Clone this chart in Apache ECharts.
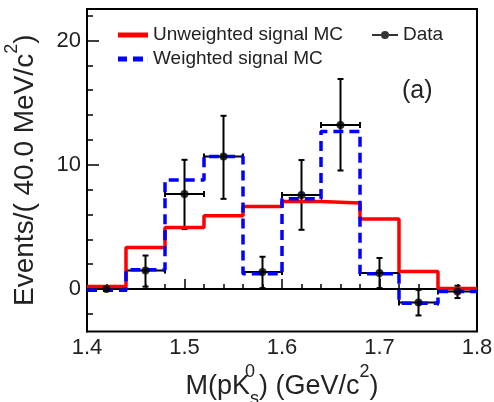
<!DOCTYPE html>
<html>
<head>
<meta charset="utf-8">
<script src="https://cdn.jsdelivr.net/npm/echarts@6/dist/echarts.min.js"></script>
<style>
  html, body { margin: 0; padding: 0; background: #fff; }
  #main { width: 494px; height: 402px; }
</style>
</head>
<body>
<div id="main"></div>
<script>
// 40 MeV bins, edges in GeV/c^2
const binEdges = [1.40, 1.44, 1.48, 1.52, 1.56, 1.60, 1.64, 1.68, 1.72, 1.76, 1.80];
const unweightedMC = [0.2, 3.35, 4.95, 5.9, 6.65, 7.05, 6.92, 5.63, 1.42, 0.05];
const weightedMC = [-0.1, 1.55, 8.77, 10.67, 1.23, 7.26, 12.68, 1.23, -1.13, -0.2];
// data points (bin centres) with error bar ends
const dataX = [1.42, 1.46, 1.50, 1.54, 1.58, 1.62, 1.66, 1.70, 1.74, 1.78];
const dataY = [0, 1.5, 7.64, 10.67, 1.37, 7.56, 13.2, 1.29, -1.08, -0.19];
const dataLow = [0, 0.2, 4.83, 7.26, 0.08, 4.77, 9.54, 0.08, -2.12, -0.72];
const dataHigh = [0, 2.7, 10.4, 13.94, 2.6, 10.38, 16.9, 2.5, -0.06, 0.27];
const yMajorTicks = [0, 10, 20];
const yMinorTicks = [-2, 2, 4, 6, 8, 12, 14, 16, 18, 22];
const yMin = -3.41, yMax = 22.53;

const FONT = 'Liberation Sans';
const TXT = '#222';

// histogram as step line: left edge of every bin + closing right edge
function toSteps(vals) {
  return binEdges.map((e, i) => [e, vals[Math.min(i, vals.length - 1)]]);
}

function renderErr(params, api) {
  const x = api.value(0), y = api.value(1), lo = api.value(2), hi = api.value(3);
  const c = api.coord([x, y]);
  const l = api.coord([x - 0.02, y]);
  const r = api.coord([x + 0.02, y]);
  const cap = 3;
  const st = { stroke: '#000', lineWidth: 2 };
  const kids = [
    { type: 'line', shape: { x1: l[0], y1: c[1], x2: r[0], y2: c[1] }, style: st },
    { type: 'line', shape: { x1: l[0], y1: c[1] - cap, x2: l[0], y2: c[1] + cap }, style: st },
    { type: 'line', shape: { x1: r[0], y1: c[1] - cap, x2: r[0], y2: c[1] + cap }, style: st }
  ];
  if (hi > lo) {
    const t = api.coord([x, hi]), b = api.coord([x, lo]);
    kids.push(
      { type: 'line', shape: { x1: c[0], y1: t[1], x2: c[0], y2: b[1] }, style: st },
      { type: 'line', shape: { x1: c[0] - cap, y1: t[1], x2: c[0] + cap, y2: t[1] }, style: st },
      { type: 'line', shape: { x1: c[0] - cap, y1: b[1], x2: c[0] + cap, y2: b[1] }, style: st }
    );
  }
  return { type: 'group', children: kids };
}

const legendText = { fontFamily: FONT, fontSize: 19, color: TXT, lineHeight: 20 };

const chart = echarts.init(document.getElementById('main'));
const option = {
  animation: false,
  backgroundColor: '#fff',
  title: {
    text: '(a)', left: 402, top: 79, padding: 0,
    textStyle: { fontFamily: FONT, fontSize: 25, fontWeight: 'normal', color: TXT }
  },
  legend: [{
    data: [
      { name: 'Unweighted signal MC', icon: 'path://M0,0 L30,0 L30,5 L0,5 Z' },
      { name: 'Weighted signal MC', icon: 'path://M0,0 L9,0 L9,5 L0,5 Z M15,0 L25,0 L25,5 L15,5 Z M29.9,0 L30,0 L30,5 L29.9,5 Z' }
    ],
    orient: 'vertical', left: 118, top: 25, padding: 0, itemGap: 4,
    itemWidth: 30, itemHeight: 5, selectedMode: false,
    textStyle: legendText
  }, {
    data: [{ name: 'Data', icon: 'path://M0,4 L9,4 L9,6 L0,6 Z M17,4 L26,4 L26,6 L17,6 Z M13,1 A4,4 0 1 1 13,9 A4,4 0 1 1 13,1 Z' }],
    left: 372, top: 25, padding: 0, itemWidth: 26, itemHeight: 8, selectedMode: false,
    textStyle: legendText
  }],
  grid: {
    left: 87, right: 17, top: 9, bottom: 70.5,
    show: true, borderColor: '#000', borderWidth: 2,
    outerBoundsMode: 'none'
  },
  xAxis: {
    type: 'value', min: 1.4, max: 1.8, interval: 0.1,
    axisLine: { lineStyle: { color: '#000', width: 2 } },
    axisTick: { inside: true, length: 10, lineStyle: { color: '#000', width: 1.5 } },
    minorTick: { show: true, splitNumber: 5, length: 5, lineStyle: { color: '#000', width: 1.5 } },
    splitLine: { show: false },
    axisLabel: { margin: 5, fontFamily: FONT, fontSize: 22, color: TXT },
    name: 'M(pK{sup|0}{sub|s}) (GeV/c{sup2|2})',
    nameLocation: 'middle', nameGap: 30,
    nameTextStyle: {
      fontFamily: FONT, fontSize: 27, color: TXT,
      rich: {
        sup: { fontFamily: FONT, fontSize: 18, color: TXT, width: 0, padding: [0, 0, 29, 0] },
        sub: { fontFamily: FONT, fontSize: 18, color: TXT, padding: [25, 0, 0, 0] },
        sup2: { fontFamily: FONT, fontSize: 18, color: TXT, padding: [0, 0, 29, 0] }
      }
    }
  },
  yAxis: [{
    type: 'value', min: yMin, max: yMax, position: 'left',
    axisLine: { show: true, lineStyle: { color: '#000', width: 2 } },
    axisTick: { show: true, inside: true, length: 12, customValues: yMajorTicks, lineStyle: { color: '#000', width: 1.5 } },
    axisLabel: { customValues: yMajorTicks, margin: 6, fontFamily: FONT, fontSize: 22, color: TXT },
    splitLine: { show: false },
    name: 'Events/( 40.0 MeV/c{sup|2})',
    nameLocation: 'middle', nameRotate: 90, nameGap: 40,
    nameTextStyle: {
      fontFamily: FONT, fontSize: 28, color: TXT,
      rich: { sup: { fontFamily: FONT, fontSize: 18, color: TXT, padding: [0, 0, 26, 0] } }
    }
  }, {
    // minor ticks only
    type: 'value', min: yMin, max: yMax, position: 'left',
    axisLine: { show: false },
    axisTick: { show: true, inside: true, length: 6, customValues: yMinorTicks, lineStyle: { color: '#000', width: 1.5 } },
    axisLabel: { show: false },
    splitLine: { show: false }
  }],
  series: [{
    name: 'Unweighted signal MC', type: 'line', step: 'end', symbol: 'none',
    data: toSteps(unweightedMC),
    lineStyle: { color: '#ff0000', width: 3.5 }, itemStyle: { color: '#ff0000' }
  }, {
    name: 'Weighted signal MC', type: 'line', step: 'end', symbol: 'none',
    data: toSteps(weightedMC),
    lineStyle: { color: '#0000ff', width: 3.5, type: [10, 6] }, itemStyle: { color: '#0000ff' }
  }, {
    name: 'Data errors', type: 'custom', renderItem: renderErr,
    data: dataX.map((x, i) => [x, dataY[i], dataLow[i], dataHigh[i]]),
    encode: { x: 0, y: 1 }, z: 3
  }, {
    name: 'Data', type: 'scatter', symbol: 'circle', symbolSize: 8,
    data: dataX.map((x, i) => [x, dataY[i]]),
    itemStyle: { color: '#000' }, z: 4
  }]
};
chart.setOption(option);
</script>
</body>
</html>
